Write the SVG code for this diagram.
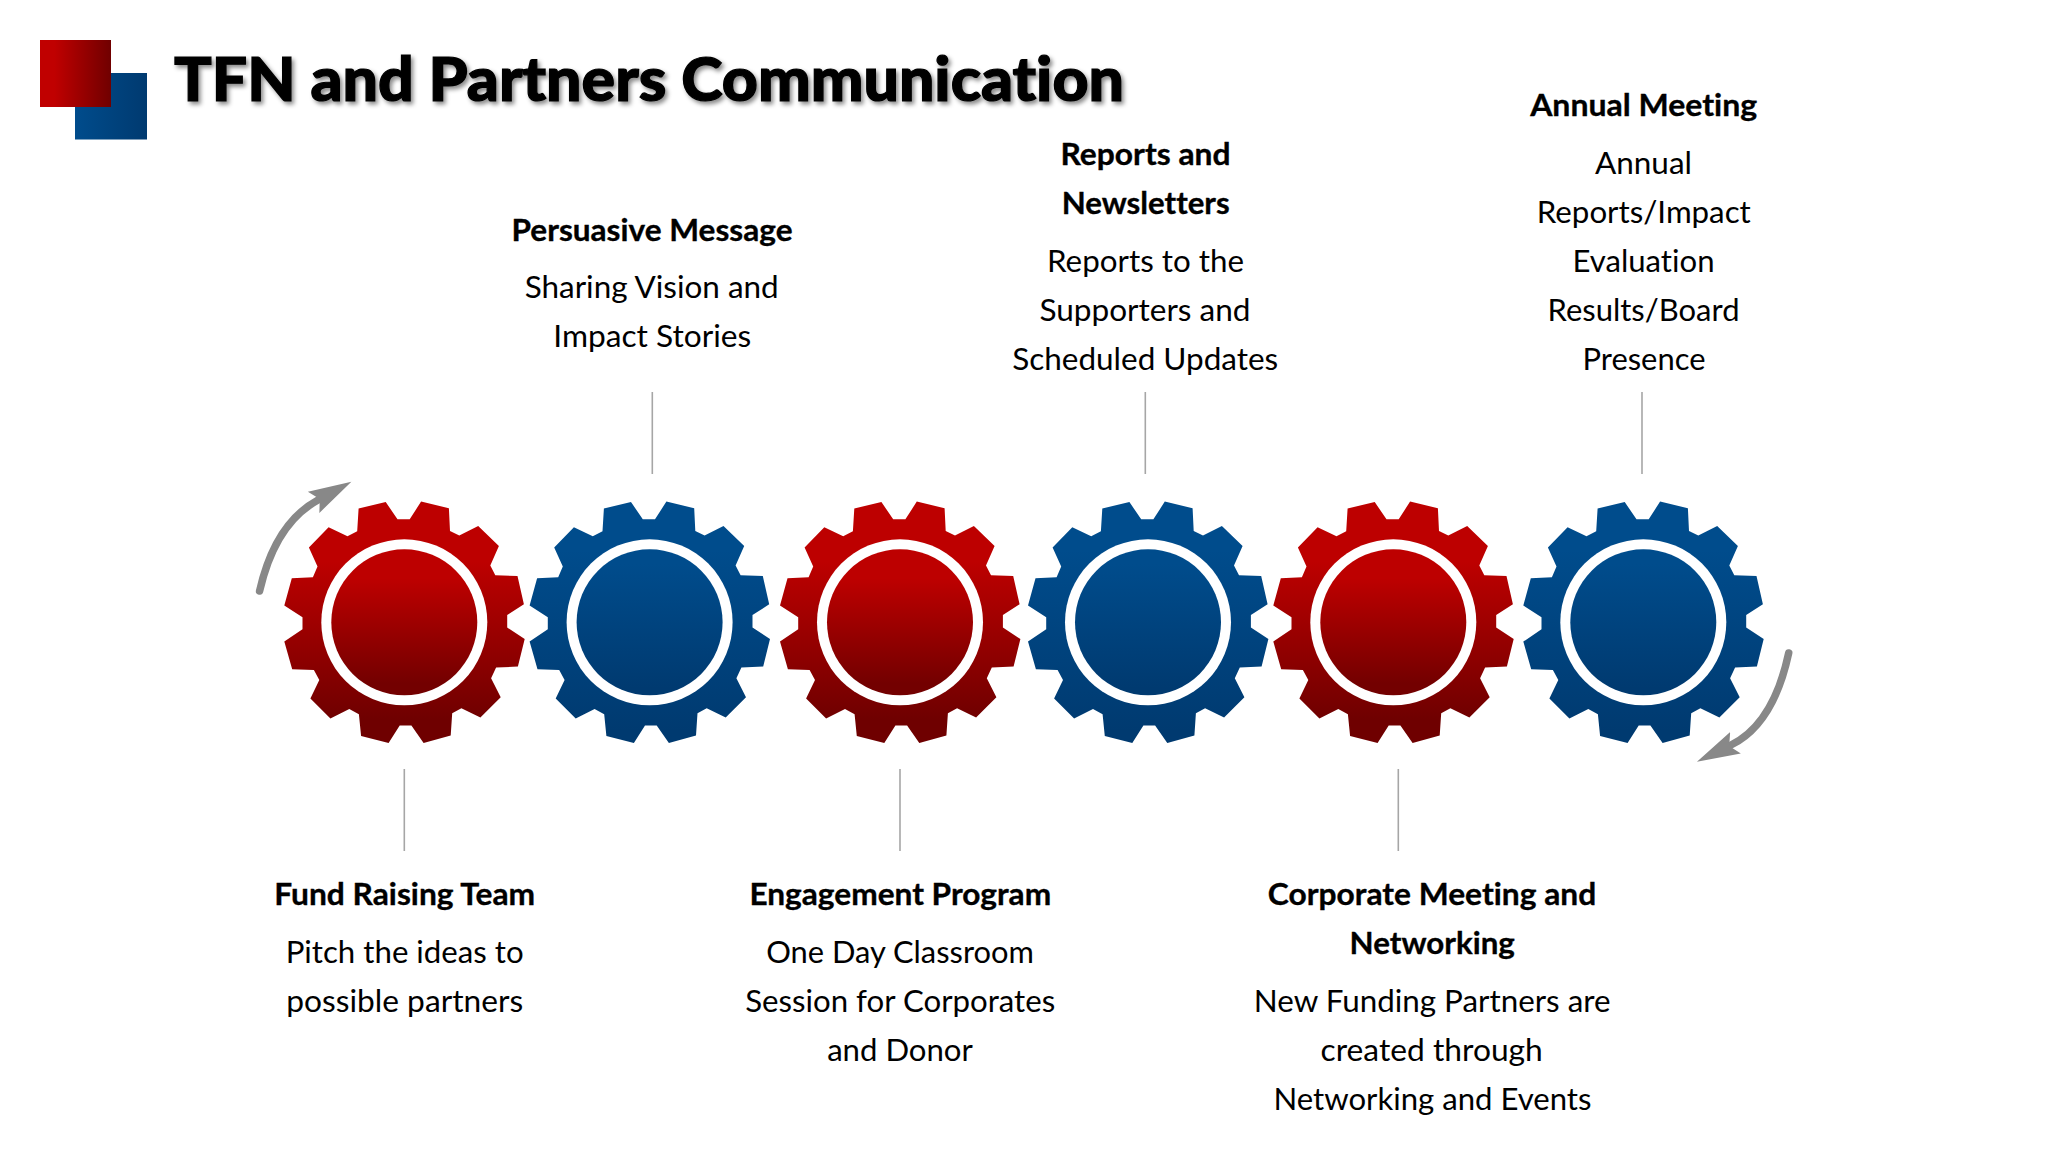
<svg xmlns="http://www.w3.org/2000/svg" width="2048" height="1152" viewBox="0 0 2048 1152">
<style>
text{font-family:"Lato","Open Sans","Liberation Sans",sans-serif;fill:#000;text-anchor:middle;font-size:31px;font-variant-ligatures:none}
.h{font-weight:700;stroke:#000;stroke-width:.35}
.t{font-weight:900;font-size:60px;text-anchor:start;filter:url(#sh);stroke:#000;stroke-width:1.2}
.lead{stroke:#a6a6a6;stroke-width:1.6;fill:none}
.arc{stroke:#888;stroke-width:7.5;stroke-linecap:round;fill:none;marker-end:url(#ah)}
.ring{fill:#fff}
.rg{fill:url(#redG)}.rd{fill:url(#redD)}.bg{fill:url(#blueG)}.bd{fill:url(#blueD)}
</style>
<defs>
<linearGradient id="redG" x1="0" y1="0" x2="0" y2="1"><stop offset="0.25" stop-color="#bd0000"/><stop offset="0.9" stop-color="#6f0000"/></linearGradient>
<linearGradient id="redD" x1="0" y1="0" x2="0" y2="1"><stop offset="0.2" stop-color="#bd0000"/><stop offset="0.92" stop-color="#730000"/></linearGradient>
<linearGradient id="blueG" x1="0" y1="0" x2="0" y2="1"><stop offset="0.2" stop-color="#004c8c"/><stop offset="0.95" stop-color="#003a70"/></linearGradient>
<linearGradient id="blueD" x1="0" y1="0" x2="0" y2="1"><stop offset="0.1" stop-color="#004c8c"/><stop offset="0.95" stop-color="#003a70"/></linearGradient>
<linearGradient id="redH"><stop offset="0.2" stop-color="#c00000"/><stop offset="1" stop-color="#700000"/></linearGradient>
<linearGradient id="blueH"><stop offset="0" stop-color="#004c8c"/><stop offset="1" stop-color="#003a70"/></linearGradient>
<filter id="sh" x="-5%" y="-20%" width="110%" height="150%"><feDropShadow dx="2.5" dy="3" stdDeviation="2" flood-color="#000" flood-opacity="0.45"/></filter>
<marker id="ah" markerUnits="userSpaceOnUse" markerWidth="50" markerHeight="30" refX="5" refY="15" orient="auto"><path d="M0,3 L43,15 L0,27 L7,15z" fill="#888"/></marker>
<polygon id="gear" points="-6.8,-103 5.4,-103 16.8,-120.7 44.6,-114 45.7,-91.3 55,-86.7 73.9,-96.3 94.6,-76.3 86,-56.7 91,-47 113.2,-46.3 119.6,-18 102.9,-7.3 102.9,5.3 120.4,16.7 113.6,44.3 91.8,45.3 86.8,56 96.4,75 76.1,95.3 57.1,86 47.9,91 46.4,113.3 19.3,120.7 7.1,103.3 -4.6,103.3 -15.7,120.7 -43.2,113.7 -45.4,92 -55,86.7 -73.9,96.3 -93.9,76.3 -85,57.7 -90.4,47.7 -112.1,47 -120,19.3 -101.8,7 -101.8,-5 -120,-16.7 -112.5,-44 -91.4,-45 -86.8,-55.7 -95.4,-74.7 -75.7,-95 -56.8,-86 -47.1,-91 -45.7,-113.7 -18.6,-120.3"/>
</defs>
<rect width="2048" height="1152" fill="#fff"/>
<g id="logo"><rect x="75" y="73" width="72" height="66.500" fill="url(#blueH)"/><rect x="40" y="40" width="71" height="67" fill="url(#redH)"/></g>
<text id="title" class="t" x="174" y="100.500" textLength="950" lengthAdjust="spacingAndGlyphs">TFN and Partners Communication</text>
<g id="connectors">
<line class="lead" x1="404.300" y1="769" x2="404.300" y2="851"/>
<line class="lead" x1="652.300" y1="392" x2="652.300" y2="474"/>
<line class="lead" x1="900" y1="769" x2="900" y2="851"/>
<line class="lead" x1="1145.300" y1="392" x2="1145.300" y2="474"/>
<line class="lead" x1="1398.300" y1="769" x2="1398.300" y2="851"/>
<line class="lead" x1="1642" y1="392" x2="1642" y2="474"/>
<path class="arc" d="M259.600,591 Q275,523.400 318,500"/>
<path class="arc" d="M1788.700,653 Q1773.500,724 1731,745"/>
</g>
<g id="node-fund">
<use href="#gear" x="404.300" y="622.300" class="rg"/><circle class="ring" cx="404.300" cy="622.300" r="83"/><circle class="rd" cx="404.300" cy="622.300" r="73"/>
<text class="h" x="404.700" y="905.300" textLength="261" lengthAdjust="spacingAndGlyphs">Fund Raising Team</text>
<text x="404.700" y="962.700" textLength="238" lengthAdjust="spacingAndGlyphs">Pitch the ideas to</text>
<text x="404.700" y="1011.700" textLength="237" lengthAdjust="spacingAndGlyphs">possible partners</text>
</g>
<g id="node-persuasive">
<use href="#gear" x="649.600" y="622.300" class="bg"/><circle class="ring" cx="649.600" cy="622.300" r="83"/><circle class="bd" cx="649.600" cy="622.300" r="73"/>
<text class="h" x="652" y="240.500" textLength="281" lengthAdjust="spacingAndGlyphs">Persuasive Message</text>
<text x="651.700" y="298" textLength="254" lengthAdjust="spacingAndGlyphs">Sharing Vision and</text>
<text x="652.300" y="347" textLength="198" lengthAdjust="spacingAndGlyphs">Impact Stories</text>
</g>
<g id="node-engagement">
<use href="#gear" x="900" y="622.300" class="rg"/><circle class="ring" cx="900" cy="622.300" r="83"/><circle class="rd" cx="900" cy="622.300" r="73"/>
<text class="h" x="900.300" y="905.300" textLength="301.700" lengthAdjust="spacingAndGlyphs">Engagement Program</text>
<text x="900" y="962.700" textLength="267.700" lengthAdjust="spacingAndGlyphs">One Day Classroom</text>
<text x="900.200" y="1011.700" textLength="310" lengthAdjust="spacingAndGlyphs">Session for Corporates</text>
<text x="900" y="1061" textLength="145.700" lengthAdjust="spacingAndGlyphs">and Donor</text>
</g>
<g id="node-reports">
<use href="#gear" x="1148" y="622.300" class="bg"/><circle class="ring" cx="1148" cy="622.300" r="83"/><circle class="bd" cx="1148" cy="622.300" r="73"/>
<text class="h" x="1145.500" y="165.300" textLength="170" lengthAdjust="spacingAndGlyphs">Reports and</text>
<text class="h" x="1145.700" y="214.300" textLength="168" lengthAdjust="spacingAndGlyphs">Newsletters</text>
<text x="1145.500" y="272" textLength="197" lengthAdjust="spacingAndGlyphs">Reports to the</text>
<text x="1145" y="321" textLength="211" lengthAdjust="spacingAndGlyphs">Supporters and</text>
<text x="1145.200" y="370.300" textLength="266" lengthAdjust="spacingAndGlyphs">Scheduled Updates</text>
</g>
<g id="node-corporate">
<use href="#gear" x="1393.300" y="622.300" class="rg"/><circle class="ring" cx="1393.300" cy="622.300" r="83"/><circle class="rd" cx="1393.300" cy="622.300" r="73"/>
<text class="h" x="1432" y="905.300" textLength="328.300" lengthAdjust="spacingAndGlyphs">Corporate Meeting and</text>
<text class="h" x="1432.200" y="954" textLength="165.300" lengthAdjust="spacingAndGlyphs">Networking</text>
<text x="1432.200" y="1011.700" textLength="356.700" lengthAdjust="spacingAndGlyphs">New Funding Partners are</text>
<text x="1431.700" y="1061" textLength="222.300" lengthAdjust="spacingAndGlyphs">created through</text>
<text x="1432.500" y="1110.300" textLength="318" lengthAdjust="spacingAndGlyphs">Networking and Events</text>
</g>
<g id="node-annual">
<use href="#gear" x="1643.300" y="622.300" class="bg"/><circle class="ring" cx="1643.300" cy="622.300" r="83"/><circle class="bd" cx="1643.300" cy="622.300" r="73"/>
<text class="h" x="1643.700" y="116" textLength="227" lengthAdjust="spacingAndGlyphs">Annual Meeting</text>
<text x="1643.500" y="173.700" textLength="97" lengthAdjust="spacingAndGlyphs">Annual</text>
<text x="1643.800" y="222.700" textLength="214" lengthAdjust="spacingAndGlyphs">Reports/Impact</text>
<text x="1643.500" y="272" textLength="142" lengthAdjust="spacingAndGlyphs">Evaluation</text>
<text x="1643.500" y="321" textLength="192" lengthAdjust="spacingAndGlyphs">Results/Board</text>
<text x="1644" y="370.300" textLength="123" lengthAdjust="spacingAndGlyphs">Presence</text>
</g>
</svg>
